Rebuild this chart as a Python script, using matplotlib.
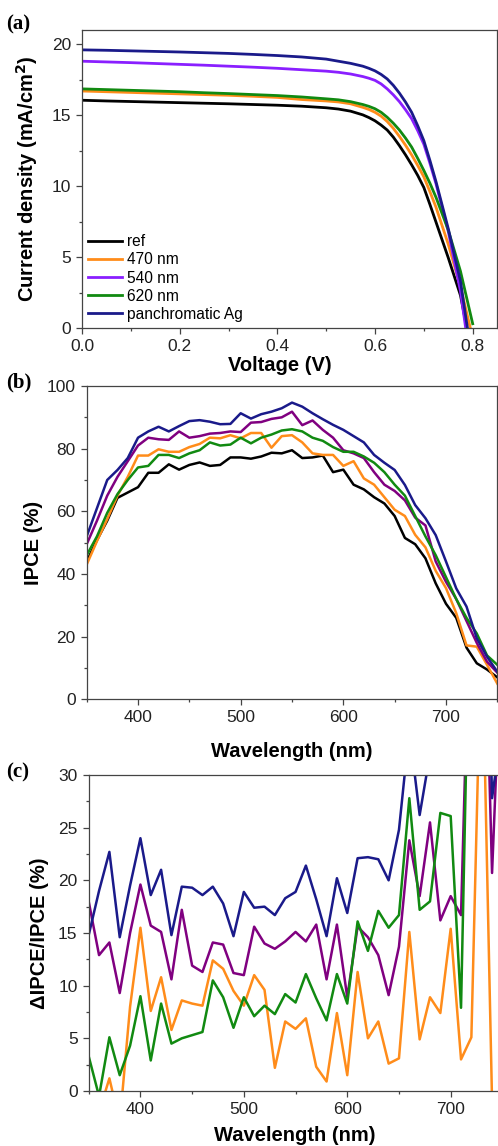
import matplotlib.pyplot as plt
import numpy as np
from matplotlib.ticker import MultipleLocator, FormatStrFormatter

plt.rcParams['font.family'] = ['Liberation Sans', 'DejaVu Sans']

# (a) J-V curves
voltage = [0.0, 0.05, 0.1, 0.15, 0.2, 0.25, 0.3, 0.35, 0.4, 0.45, 0.5, 0.525,
           0.55, 0.575, 0.5875, 0.6, 0.6125, 0.625, 0.6375, 0.65, 0.6625, 0.675,
           0.6875, 0.7, 0.7125, 0.725, 0.75, 0.775, 0.8]
j_ref = [16.05, 16.0, 15.96, 15.92, 15.88, 15.84, 15.8, 15.75, 15.7, 15.63, 15.52, 15.43,
         15.28, 15.02, 14.83, 14.6, 14.3, 13.95, 13.45, 12.85, 12.2, 11.5,
         10.75, 9.9, 8.7, 7.45, 4.95, 2.3, -2.1]
j_470 = [16.7, 16.65, 16.6, 16.55, 16.5, 16.45, 16.4, 16.33, 16.25, 16.1, 16.0, 15.93,
         15.8, 15.55, 15.4, 15.2, 14.93, 14.55, 14.07, 13.5, 12.88, 12.2,
         11.45, 10.65, 9.6, 8.5, 5.9, 2.9, -0.7]
j_540 = [18.8, 18.75, 18.7, 18.64, 18.58, 18.52, 18.45, 18.38, 18.3, 18.2, 18.1, 18.02,
         17.9, 17.72, 17.6, 17.45, 17.2, 16.85, 16.43, 15.95, 15.38, 14.75,
         13.9, 12.95, 11.6, 10.15, 6.8, 2.6, -3.5]
j_620 = [16.85, 16.8, 16.75, 16.7, 16.65, 16.58, 16.52, 16.45, 16.38, 16.28, 16.15, 16.08,
         15.95, 15.75, 15.62, 15.45, 15.2, 14.85, 14.43, 13.95, 13.38, 12.75,
         11.95, 11.1, 10.2, 9.2, 6.9, 4.0, 0.3]
j_pan = [19.6, 19.57, 19.53, 19.49, 19.45, 19.4, 19.35, 19.28, 19.2, 19.1, 18.95, 18.8,
         18.65, 18.45, 18.3, 18.12, 17.87, 17.55, 17.1, 16.55, 15.92, 15.2,
         14.25, 13.2, 11.8, 10.3, 7.0, 3.3, -2.5]

# (b) IPCE, 350-750 nm every 10 nm
wavelength = np.arange(350, 751, 10)
ipce_ref = [44, 50.8, 57, 64.3, 66, 67.7, 72.3, 72.3, 75, 73.3, 74.8, 75.6, 74.5, 74.8,
            77.2, 77.2, 76.8, 77.5, 78.7, 78.5, 79.5, 77, 77.2, 77.8, 72.5, 73.3, 68.5,
            67, 64.5, 62.5, 58.5, 51.5, 49.5, 45, 37, 30.5, 26, 16.5, 11.5, 9.5, 7]
ipce_470 = [43, 50.5, 57.5, 65, 71, 77.8, 77.8, 79.8, 79, 79, 80.5, 81.5, 83.5, 83.3,
            84.3, 83.3, 85, 85, 80.3, 84, 84.3, 82, 78.5, 78, 78, 74.5, 76, 70.5, 68.5,
            64.5, 60.5, 58.5, 52.5, 48.5, 41, 35.5, 27.5, 17.2, 16.8, 11, 5]
ipce_540 = [49.5, 57, 65, 71, 76, 81, 83.5, 83, 82.8, 85.5, 83.5, 84, 84.8, 85, 85.5,
            85.3, 88.3, 88.5, 89.5, 90, 91.8, 87.5, 89, 86, 83.5, 79.5, 78.5, 77, 72.5,
            68.5, 66.5, 63.5, 58, 55.5, 44, 37.5, 32, 25, 18, 12, 8.5]
ipce_620 = [46, 52, 59.5, 65.5, 70, 74, 74.5, 78, 78, 77, 78.5, 79.5, 82, 81, 81.3, 83.5,
            81.7, 83.5, 84.5, 85.8, 86.2, 85.5, 83.5, 82.5, 80.5, 79, 79, 77.5, 75.5,
            72.5, 68.5, 65, 58.5, 52, 46, 39, 32, 26, 21, 14, 11]
ipce_pan = [52, 61, 70, 73.2, 77, 83.5, 85.5, 87, 85.5, 87.2, 88.8, 89.1, 88.6, 87.8,
            87.9, 91.3, 89.6, 91, 91.8, 92.9, 94.7, 93.4, 91.3, 89.4, 87.6, 86, 84, 82,
            78, 75.5, 73.2, 68.4, 62, 57.8, 52.4, 44, 35.4, 29.6, 19.5, 13.6, 8.8]

# (c) relative IPCE enhancement
rel_470 = [-3, -2, 1.2, -3, 8, 15.5, 7.6, 10.8, 5.8, 8.6, 8.3, 8.1, 12.4, 11.6, 9.5,
           8.1, 11, 9.6, 2.2, 6.6, 5.9, 6.9, 2.3, 0.9, 7.4, 1.5, 11.3, 5, 6.6, 2.6, 3.1,
           15.1, 4.9, 8.9, 7.4, 15.4, 3.0, 5.1, 45, -1, -30]
rel_540 = [18, 12.9, 14.1, 9.3, 15, 19.6, 15.7, 15.1, 10.6, 17.2, 11.9, 11.3, 14.1, 13.9,
           11.2, 11, 15.6, 14, 13.5, 14.2, 15.1, 14.2, 15.8, 10.6, 15.8, 8.9, 15.6, 14.6,
           12.9, 9.1, 13.7, 23.8, 18.5, 25.5, 16.2, 18.5, 16.7, 52, 57, 20.7, 45]
rel_620 = [3.3, -0.5, 5.1, 1.5, 4.3, 9, 2.9, 8.3, 4.5, 5, 5.3, 5.6, 10.5, 8.9, 6, 8.9,
           7.1, 8.1, 7.3, 9.2, 8.4, 11.1, 8.8, 6.7, 11.1, 8.3, 16.1, 13.3, 17.1, 15.5,
           16.7, 27.8, 17.2, 18, 26.4, 26.1, 7.9, 55, 83, 47, 57]
rel_pan = [14.8, 19, 22.7, 14.6, 19.5, 24, 18.6, 21, 14.8, 19.4, 19.3, 18.6, 19.4, 17.8,
           14.7, 18.9, 17.4, 17.5, 16.7, 18.3, 18.9, 21.4, 18.2, 14.7, 20.2, 16.9, 22.1,
           22.2, 22, 20, 24.8, 34.3, 26.2, 32, 40, 44, 36, 79, 70, 27.8, 35]

labels = ['ref', '470 nm', '540 nm', '620 nm', 'panchromatic Ag']


def style_axis(ax):
    for s in ax.spines.values():
        s.set_color('#444444')
        s.set_linewidth(0.9)
    ax.tick_params(which='both', direction='out', colors='#444444', labelcolor='#222222',
                   labelsize=12.5, top=False, right=False)
    ax.tick_params(which='major', length=4, width=0.9, pad=4)
    ax.tick_params(which='minor', length=2.5, width=0.9)


fig = plt.figure(figsize=(4.98, 11.46), dpi=100)
W, H = 498.0, 1146.0

# ---- (a)
ax = fig.add_axes([82 / W, 1 - 328 / H, (497.1 - 82) / W, (328 - 30) / H])
cols_a = ['black', '#ff8c1a', '#8a1fff', '#118a11', '#1a1a8a']
for j, c, lab in zip([j_ref, j_470, j_540, j_620, j_pan], cols_a, labels):
    ax.plot(voltage, j, color=c, lw=2.0, label=lab)
ax.set_xlim(0, 0.85)
ax.set_ylim(0, 21)
ax.xaxis.set_major_locator(MultipleLocator(0.2))
ax.xaxis.set_minor_locator(MultipleLocator(0.1))
ax.xaxis.set_major_formatter(FormatStrFormatter('%.1f'))
ax.yaxis.set_major_locator(MultipleLocator(5))
ax.yaxis.set_minor_locator(MultipleLocator(2.5))
style_axis(ax)
ax.set_xlabel('Voltage (V)', fontsize=14.5, fontweight='bold')
ax.set_ylabel('Current density (mA/cm$^\\mathbf{2}$)', fontsize=14.5, fontweight='bold')
ax.xaxis.set_label_coords(0.476, -0.095)
ax.yaxis.set_label_coords(-0.1, 0.5)
ax.legend(loc='lower left', frameon=False, fontsize=11.2, handlelength=2.2,
          handletextpad=0.3, labelspacing=0.2, borderaxespad=0.2, borderpad=0.2)

# ---- (b)
cols = ['black', '#ff8c1a', '#800080', '#118a11', '#1a1a8a']
ax = fig.add_axes([86.7 / W, 1 - 699.3 / H, (497.3 - 86.7) / W, (699.3 - 386) / H])
for v, c in zip([ipce_ref, ipce_470, ipce_540, ipce_620, ipce_pan], cols):
    ax.plot(wavelength, v, color=c, lw=1.8)
ax.set_xlim(350, 750)
ax.set_ylim(0, 100)
ax.xaxis.set_major_locator(MultipleLocator(100))
ax.xaxis.set_minor_locator(MultipleLocator(50))
ax.yaxis.set_major_locator(MultipleLocator(20))
ax.yaxis.set_minor_locator(MultipleLocator(10))
style_axis(ax)
ax.set_xlabel('Wavelength (nm)', fontsize=14.5, fontweight='bold')
ax.set_ylabel('IPCE (%)', fontsize=14.5, fontweight='bold')
ax.xaxis.set_label_coords(0.5, -0.135)
ax.yaxis.set_label_coords(-0.106, 0.5)

# ---- (c)
ax = fig.add_axes([88.7 / W, 1 - 1091 / H, (502.4 - 88.7) / W, (1091 - 775) / H])
for v, c in zip([rel_470, rel_540, rel_620, rel_pan], cols[1:]):
    ax.plot(wavelength, v, color=c, lw=1.8)
ax.set_xlim(350, 750)
ax.set_ylim(0, 30)
ax.xaxis.set_major_locator(MultipleLocator(100))
ax.xaxis.set_minor_locator(MultipleLocator(50))
ax.yaxis.set_major_locator(MultipleLocator(5))
ax.yaxis.set_minor_locator(MultipleLocator(2.5))
style_axis(ax)
ax.spines['right'].set_visible(False)
ax.set_xlabel('Wavelength (nm)', fontsize=14.5, fontweight='bold')
ax.set_ylabel('\u0394IPCE/IPCE (%)', fontsize=14.5, fontweight='bold')
ax.xaxis.set_label_coords(0.499, -0.112)
ax.yaxis.set_label_coords(-0.096, 0.5)

# panel letters
for y, t in [(24, '(a)'), (382, '(b)'), (772, '(c)')]:
    fig.text(6 / W, 1 - y / H, t, fontsize=15, fontweight='bold',
             family='Liberation Serif', va='center', ha='left')

fig.savefig('out.png', dpi=100)
